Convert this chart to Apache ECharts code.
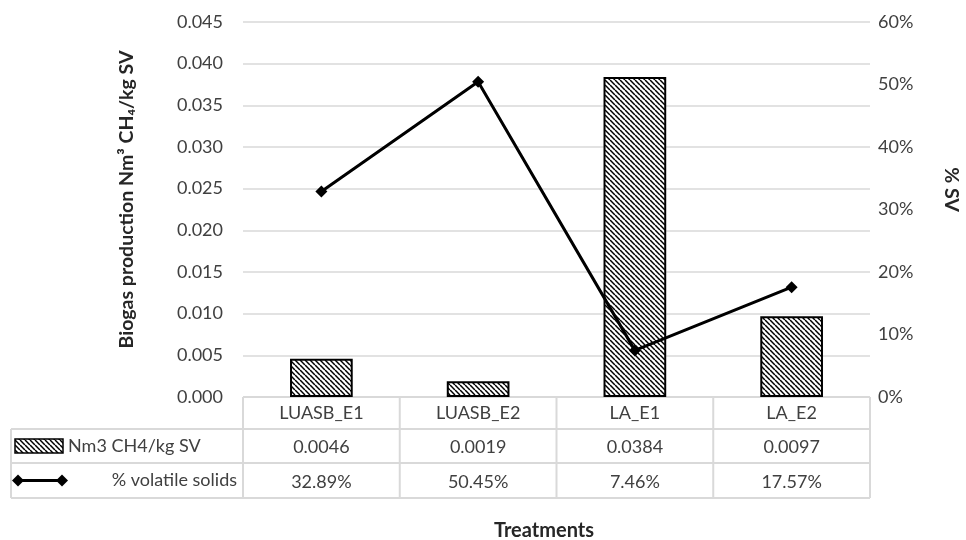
<!DOCTYPE html>
<html>
<head>
<meta charset="utf-8">
<script src="https://cdn.jsdelivr.net/npm/echarts@6/dist/echarts.min.js"></script>
<style>
  html, body { margin: 0; padding: 0; background: #fff; }
  #chart { width: 966px; height: 540px; }
</style>
</head>
<body>
<div id="chart"></div>
<script>
// Treatments and their measured values
const categories = ['LUASB_E1', 'LUASB_E2', 'LA_E1', 'LA_E2'];
const biogasValues = [0.0046, 0.0019, 0.0384, 0.0097];      // Nm3 CH4 / kg SV
const volatileSolids = [32.89, 50.45, 7.46, 17.57];        // % volatile solids
const biogasName = 'Nm3 CH4/kg SV';
const solidsName = '% volatile solids';

const FONT = 'Lato, "Open Sans", "Noto Sans", sans-serif';
const TEXT = '#404040';
const GRID = '#d9d9d9';

// Hatched fill for the bars: diagonal black strokes on white
function hatch() {
  const s = 5;
  const cv = document.createElement('canvas');
  cv.width = s; cv.height = s;
  const g = cv.getContext('2d');
  g.fillStyle = '#fff';
  g.fillRect(0, 0, s, s);
  g.strokeStyle = '#000';
  g.lineWidth = 1.5;
  for (const k of [-s, 0, s]) {
    g.beginPath();
    g.moveTo(k, 0);
    g.lineTo(k + s, s);
    g.stroke();
  }
  return { image: cv, repeat: 'repeat' };
}
const hatchFill = hatch();

const chart = echarts.init(document.getElementById('chart'), null, { renderer: 'canvas' });

const option = {
  animation: false,
  backgroundColor: '#fff',
  textStyle: { fontFamily: FONT },
  title: {
    text: 'Treatments',
    left: 539,
    top: 516,
    textAlign: 'center',
    textStyle: { fontFamily: FONT, fontSize: 20, fontWeight: 'bold', color: '#262626' }
  },
  grid: { left: 243, right: 96, top: 22, bottom: 143, containLabel: false, outerBoundsMode: 'none' },
  xAxis: {
    type: 'category',
    data: categories,
    axisLine: { show: false },
    axisTick: { show: false },
    axisLabel: {
      margin: 0,
      interval: 0,
      formatter: (v, i) => '{h|' + v + '}\n{v|' + biogasValues[i].toFixed(4) + '}\n{v|' + volatileSolids[i].toFixed(2) + '%}',
      rich: {
        h: { fontFamily: FONT, fontSize: 18, color: TEXT, lineHeight: 33 },
        v: { fontFamily: FONT, fontSize: 18, color: TEXT, lineHeight: 35 }
      }
    }
  },
  yAxis: [
    {
      type: 'value',
      min: 0, max: 0.045, interval: 0.005,
      name: 'Biogas production Nm³ CH₄/kg SV',
      nameLocation: 'middle',
      nameRotate: 90,
      nameGap: 106,
      nameTextStyle: { fontFamily: FONT, fontSize: 19.5, fontWeight: 'bold', color: '#262626', padding: [0, 0, 0, 20] },
      axisLine: { show: false },
      axisTick: { show: false },
      axisLabel: { margin: 20, fontSize: 18, color: TEXT, fontFamily: FONT, formatter: v => v.toFixed(3) },
      splitLine: { lineStyle: { color: GRID, width: 1.5 } }
    },
    {
      type: 'value',
      min: 0, max: 60, interval: 10,
      name: '% SV',
      nameLocation: 'middle',
      nameRotate: -90,
      nameGap: 71,
      nameTextStyle: { fontFamily: FONT, fontSize: 19.5, fontWeight: 'bold', color: '#262626', padding: [0, 40, 0, 0] },
      axisLine: { show: false },
      axisTick: { show: false },
      axisLabel: { margin: 8, fontSize: 18, color: TEXT, fontFamily: FONT, formatter: v => v + '%' },
      splitLine: { show: false }
    }
  ],
  series: [
    {
      name: biogasName,
      type: 'bar',
      data: biogasValues,
      barWidth: '40%',
      itemStyle: { color: hatchFill, borderColor: '#000', borderWidth: 2 }
    },
    {
      name: solidsName,
      type: 'line',
      yAxisIndex: 1,
      data: volatileSolids,
      symbol: 'diamond',
      symbolSize: 12,
      lineStyle: { color: '#000', width: 3 },
      itemStyle: { color: '#000' }
    }
  ]
};

chart.setOption(option);

// Data table borders and legend keys, placed from the axis layout
function drawTable() {
  const cx = categories.map(c => chart.convertToPixel({ xAxisIndex: 0 }, c));
  const band = cx[1] - cx[0];
  const xs = [cx[0] - band / 2].concat(cx.map(x => x + band / 2));
  const y0 = chart.convertToPixel({ yAxisIndex: 0 }, 0);
  const rows = [y0, y0 + 32, y0 + 66, y0 + 101];
  const tableLeft = 11;
  const right = xs[xs.length - 1];
  const ls = { stroke: GRID, lineWidth: 2 };
  const els = [];
  const hline = (x1, x2, y) => els.push({ type: 'line', shape: { x1, y1: y, x2, y2: y }, style: ls, silent: true });
  const vline = (x, y1, y2) => els.push({ type: 'line', shape: { x1: x, y1, x2: x, y2 }, style: ls, silent: true });
  hline(xs[0], right, rows[0]);
  hline(tableLeft, right, rows[1]);
  hline(tableLeft, right, rows[2]);
  hline(tableLeft, right, rows[3]);
  vline(tableLeft, rows[1], rows[3]);
  xs.forEach(x => vline(x, rows[0], rows[3]));

  // bar series key
  const r2 = (rows[1] + rows[2]) / 2;
  els.push({ type: 'rect', shape: { x: 15, y: r2 - 7, width: 48, height: 14 },
    style: { fill: hatchFill, stroke: '#000', lineWidth: 1.5 }, silent: true });
  els.push({ type: 'text', x: 68, y: r2, style: { text: biogasName, font: '18px ' + FONT, fill: TEXT, verticalAlign: 'middle', align: 'left' }, silent: true });

  // line series key
  const r3 = (rows[2] + rows[3]) / 2;
  els.push({ type: 'line', shape: { x1: 18, y1: r3, x2: 62, y2: r3 }, style: { stroke: '#000', lineWidth: 3 }, silent: true });
  [18, 62].forEach(x => els.push({ type: 'polygon', shape: { points: [[x, r3 - 6], [x + 6, r3], [x, r3 + 6], [x - 6, r3]] }, style: { fill: '#000' }, silent: true }));
  els.push({ type: 'text', x: xs[0] - 6, y: r3, style: { text: solidsName, font: '18px ' + FONT, fill: TEXT, verticalAlign: 'middle', align: 'right' }, silent: true });

  chart.setOption({ graphic: { elements: els } });
}
drawTable();
</script>
</body>
</html>
